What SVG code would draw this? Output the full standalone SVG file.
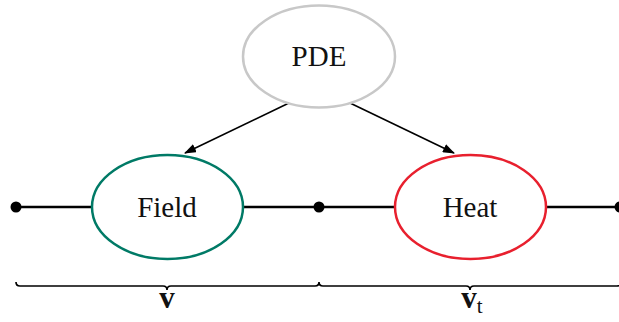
<svg xmlns="http://www.w3.org/2000/svg" width="619" height="322" viewBox="0 0 619 322">
  <style>
    .lbl { font-family: "Liberation Serif", "DejaVu Serif", serif; font-size: 29px; fill: #111; text-anchor: middle; }
    .bold { font-weight: bold; font-size: 31px; }
    .wire { stroke: #000; stroke-width: 2.5; fill: none; }
    .arrow { stroke: #000; stroke-width: 1.6; fill: none; marker-end: url(#head); }
    .brace { stroke: #000; stroke-width: 1.7; fill: none; }
    .dot { fill: #000; }
  </style>
  <defs>
    <marker id="head" viewBox="0 0 12 9" refX="11" refY="4.5" markerWidth="12" markerHeight="9" markerUnits="userSpaceOnUse" orient="auto">
      <path d="M0,0 L12,4.5 L0,9 Z" fill="#000"/>
    </marker>
  </defs>

  <g id="connectors">
    <line class="wire" x1="16" y1="207" x2="92" y2="207"/>
    <line class="wire" x1="243" y1="207" x2="395" y2="207"/>
    <line class="wire" x1="546" y1="207" x2="619" y2="207"/>
    <line class="arrow" x1="289" y1="103" x2="185" y2="153"/>
    <line class="arrow" x1="350" y1="103" x2="454" y2="153"/>
    <circle class="dot" cx="16" cy="207" r="5.5"/>
    <circle class="dot" cx="319" cy="207" r="5.5"/>
    <circle class="dot" cx="620" cy="207" r="5.5"/>
  </g>

  <g id="pde">
    <ellipse cx="319" cy="56.5" rx="76" ry="51" fill="none" stroke="#c8c8c8" stroke-width="2.5"/>
    <text class="lbl" x="319" y="66">PDE</text>
  </g>

  <g id="field">
    <ellipse cx="167.5" cy="207" rx="75.5" ry="52" fill="none" stroke="#007a66" stroke-width="2.5"/>
    <text class="lbl" x="167" y="217">Field</text>
  </g>

  <g id="heat">
    <ellipse cx="470.5" cy="207" rx="75.5" ry="52" fill="none" stroke="#e8202e" stroke-width="2.5"/>
    <text class="lbl" x="470" y="217">Heat</text>
  </g>

  <g id="braces">
    <path class="brace" d="M16,282 q0,4 4,4 h143 q4,0 4,4 q0,-4 4,-4 h144 q4,0 4,-4 q0,4 4,4 h143 q4,0 4,4 q0,-4 4,-4 h143 q4,0 4,-4"/>
    <text class="lbl bold" x="167" y="308">v</text>
    <text class="lbl" x="472" y="308"><tspan class="bold">v</tspan><tspan font-size="21" dy="5">t</tspan></text>
  </g>
</svg>
